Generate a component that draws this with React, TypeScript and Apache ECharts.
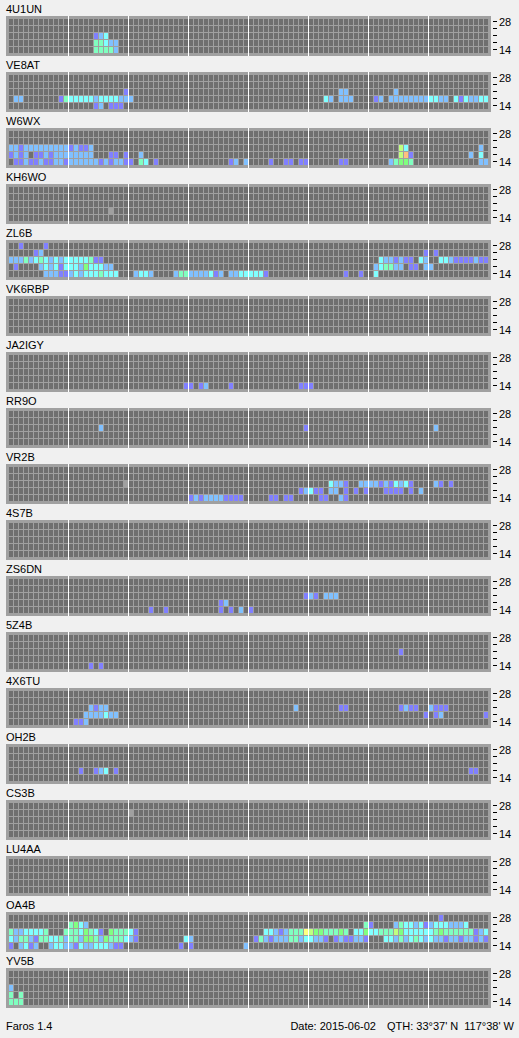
import React, { useEffect, useRef } from "react";
import * as echarts from "echarts";

// Bands (MHz), bottom to top
const BANDS = ["14", "18", "21", "24", "28"];
const LABELED_BANDS = ["14", "28"];
// 96 time slots per day (8 blocks of 12)
const SLOTS: string[] = Array.from({ length: 96 }, (_, i) => String(i));
const BLOCK = 12;

// level colours: 0 none, 1..8 signal strength, 9 = heard/undecoded
const LEVEL_COLORS = [
  "#6f6f6f",
  "#8080ff",
  "#80c0ff",
  "#80ffff",
  "#80ffc0",
  "#80ff80",
  "#c0ff80",
  "#ffff80",
  "#ffc080",
  "#a0a0a0",
];

// cells: [slot, bandIndex(0=14 .. 4=28), level]
const s4U1UN = [
  [17, 2, 1], [18, 2, 2], [19, 2, 3],
  [17, 1, 4], [18, 1, 4], [19, 1, 3], [20, 1, 2], [21, 1, 2],
  [17, 0, 4], [18, 0, 4], [19, 0, 4], [20, 0, 4], [21, 0, 2],
];
const sVE8AT = [
  [23, 2, 1], [66, 2, 2], [67, 2, 2], [77, 2, 2],
  [1, 1, 2], [2, 1, 2], [10, 1, 1], [11, 1, 4], [12, 1, 3], [13, 1, 3], [14, 1, 3], [15, 1, 3], [16, 1, 3],
  [17, 1, 2], [18, 1, 3], [19, 1, 3], [20, 1, 3], [21, 1, 3], [22, 1, 2], [23, 1, 2], [24, 1, 2],
  [63, 1, 3], [64, 1, 2], [66, 1, 2], [67, 1, 2], [68, 1, 2], [73, 1, 1], [74, 1, 2],
  [76, 1, 2], [77, 1, 2], [78, 1, 2], [79, 1, 2], [80, 1, 2], [81, 1, 2], [82, 1, 2], [83, 1, 2],
  [84, 1, 3], [85, 1, 3], [86, 1, 2], [87, 1, 2], [89, 1, 3], [90, 1, 1], [91, 1, 3], [92, 1, 2],
  [93, 1, 2], [94, 1, 3], [95, 1, 3],
  [17, 0, 1], [18, 0, 2], [20, 0, 1], [21, 0, 1], [22, 0, 1],
];
const sW6WX = [
  [0, 2, 2], [1, 2, 2], [2, 2, 1], [3, 2, 2], [4, 2, 2], [5, 2, 2], [6, 2, 2], [7, 2, 2], [8, 2, 2],
  [9, 2, 2], [10, 2, 2], [11, 2, 2], [12, 2, 1], [13, 2, 2], [14, 2, 1], [15, 2, 1], [16, 2, 2],
  [78, 2, 6], [79, 2, 3], [94, 2, 2],
  [0, 1, 1], [1, 1, 2], [2, 1, 1], [3, 1, 2], [5, 1, 1], [6, 1, 1], [7, 1, 2], [8, 1, 1], [9, 1, 2],
  [10, 1, 2], [11, 1, 2], [12, 1, 2], [13, 1, 2], [14, 1, 2], [15, 1, 2], [16, 1, 2], [20, 1, 1],
  [21, 1, 1], [23, 1, 1], [26, 1, 2], [78, 1, 6], [79, 1, 8], [80, 1, 1], [92, 1, 2], [94, 1, 3],
  [1, 0, 1], [2, 0, 1], [3, 0, 2], [4, 0, 1], [5, 0, 1], [6, 0, 2], [7, 0, 1], [8, 0, 1], [9, 0, 2],
  [10, 0, 2], [11, 0, 1], [12, 0, 2], [13, 0, 2], [14, 0, 2], [15, 0, 2], [16, 0, 2], [17, 0, 2],
  [18, 0, 1], [19, 0, 2], [20, 0, 1], [21, 0, 2], [22, 0, 2], [23, 0, 1], [24, 0, 1], [26, 0, 4],
  [27, 0, 3], [29, 0, 1], [44, 0, 1], [45, 0, 2], [47, 0, 2], [52, 0, 1], [55, 0, 1], [56, 0, 1],
  [58, 0, 1], [59, 0, 1], [66, 0, 1], [67, 0, 1], [76, 0, 2], [77, 0, 4], [78, 0, 5], [79, 0, 5],
  [80, 0, 4], [94, 0, 2], [95, 0, 2],
];
const sKH6WO = [[20, 1, 9]];
const sZL6B = [
  [2, 4, 1], [7, 4, 1],
  [5, 3, 1], [6, 3, 2], [83, 3, 1], [85, 3, 1],
  [0, 2, 2], [1, 2, 2], [2, 2, 2], [3, 2, 4], [4, 2, 2], [5, 2, 3], [6, 2, 4], [7, 2, 3], [8, 2, 2],
  [9, 2, 3], [10, 2, 2], [11, 2, 3], [12, 2, 3], [13, 2, 3], [14, 2, 3], [15, 2, 3], [16, 2, 4],
  [17, 2, 1], [18, 2, 1], [74, 2, 3], [75, 2, 2], [76, 2, 2], [77, 2, 1], [78, 2, 2], [79, 2, 1],
  [80, 2, 1], [82, 2, 3], [83, 2, 2], [86, 2, 3], [87, 2, 3], [88, 2, 2], [89, 2, 1], [90, 2, 1],
  [91, 2, 1], [92, 2, 1], [93, 2, 2], [94, 2, 1], [95, 2, 1],
  [1, 1, 1], [6, 1, 2], [7, 1, 3], [8, 1, 2], [9, 1, 3], [10, 1, 1], [11, 1, 3], [12, 1, 3],
  [13, 1, 3], [14, 1, 2], [15, 1, 5], [16, 1, 3], [17, 1, 3], [18, 1, 3], [19, 1, 2], [20, 1, 2],
  [73, 1, 2], [74, 1, 3], [75, 1, 4], [76, 1, 4], [77, 1, 2], [78, 1, 2], [80, 1, 1], [81, 1, 1],
  [83, 1, 2], [84, 1, 2],
  [7, 0, 2], [8, 0, 2], [9, 0, 2], [10, 0, 1], [11, 0, 1], [12, 0, 2], [13, 0, 3], [14, 0, 2],
  [15, 0, 3], [16, 0, 3], [17, 0, 3], [18, 0, 4], [19, 0, 3], [20, 0, 3], [21, 0, 3], [25, 0, 2],
  [26, 0, 3], [27, 0, 3], [28, 0, 2], [33, 0, 2], [34, 0, 4], [35, 0, 4], [36, 0, 2], [37, 0, 2],
  [38, 0, 2], [39, 0, 2], [40, 0, 3], [41, 0, 1], [42, 0, 2], [44, 0, 2], [45, 0, 2], [46, 0, 3],
  [47, 0, 3], [48, 0, 3], [49, 0, 3], [50, 0, 3], [51, 0, 1], [67, 0, 1], [70, 0, 1], [73, 0, 3],
];
const sVK6RBP: number[][] = [];
const sJA2IGY = [
  [35, 0, 1], [36, 0, 1], [38, 0, 1], [39, 0, 2], [44, 0, 1], [58, 0, 1], [59, 0, 1], [60, 0, 1],
];
const sRR9O = [[18, 2, 2], [59, 2, 1], [85, 2, 2]];
const sVR2B = [
  [23, 2, 9], [64, 2, 3], [65, 2, 2], [66, 2, 2], [67, 2, 1], [70, 2, 2], [71, 2, 2], [72, 2, 2],
  [73, 2, 2], [74, 2, 1], [75, 2, 2], [76, 2, 1], [77, 2, 3], [78, 2, 2], [79, 2, 3], [80, 2, 1],
  [85, 2, 2], [86, 2, 1], [88, 2, 1],
  [58, 1, 1], [59, 1, 2], [60, 1, 3], [61, 1, 1], [62, 1, 1], [64, 1, 2], [65, 1, 2], [67, 1, 1],
  [69, 1, 1], [71, 1, 1], [75, 1, 1], [76, 1, 1], [77, 1, 1], [78, 1, 1], [80, 1, 1], [82, 1, 2],
  [36, 0, 1], [37, 0, 2], [38, 0, 1], [39, 0, 2], [40, 0, 2], [41, 0, 2], [42, 0, 2], [43, 0, 1],
  [44, 0, 1], [45, 0, 1], [46, 0, 1], [52, 0, 1], [53, 0, 1], [55, 0, 1], [56, 0, 1], [62, 0, 1],
  [63, 0, 1], [66, 0, 2], [67, 0, 1],
];
const s4S7B: number[][] = [];
const sZS6DN = [
  [59, 2, 1], [60, 2, 2], [61, 2, 1], [63, 2, 2], [64, 2, 2], [65, 2, 2],
  [42, 1, 1], [43, 1, 2],
  [28, 0, 1], [31, 0, 1], [42, 0, 1], [44, 0, 1], [46, 0, 2], [48, 0, 1],
];
const s5Z4B = [[78, 2, 1], [16, 0, 1], [18, 0, 1]];
const s4X6TU = [
  [16, 2, 2], [17, 2, 1], [18, 2, 2], [19, 2, 2], [57, 2, 2], [66, 2, 1], [67, 2, 1], [78, 2, 1],
  [79, 2, 2], [80, 2, 1], [81, 2, 1], [84, 2, 2], [85, 2, 1], [86, 2, 1], [87, 2, 1],
  [15, 1, 2], [16, 1, 2], [17, 1, 2], [18, 1, 2], [19, 1, 3], [20, 1, 2], [21, 1, 2], [83, 1, 1],
  [85, 1, 1], [86, 1, 2], [95, 1, 1],
  [13, 0, 1], [14, 0, 1], [15, 0, 2],
];
const sOH2B = [[14, 1, 1], [17, 1, 1], [18, 1, 2], [19, 1, 3], [21, 1, 1], [92, 1, 1], [93, 1, 1]];
const sCS3B = [[24, 3, 9]];
const sLU4AA: number[][] = [];
const sOA4B = [
  [86, 4, 1],
  [12, 3, 4], [13, 3, 5], [14, 3, 3], [15, 3, 2], [71, 3, 4], [72, 3, 1], [77, 3, 2], [78, 3, 4],
  [79, 3, 3], [80, 3, 3], [81, 3, 2], [82, 3, 3], [83, 3, 1], [84, 3, 2], [85, 3, 3], [86, 3, 3],
  [87, 3, 3], [88, 3, 2], [89, 3, 2], [90, 3, 2], [91, 3, 3],
  [0, 2, 4], [1, 2, 2], [2, 2, 2], [3, 2, 3], [4, 2, 3], [5, 2, 3], [6, 2, 3], [7, 2, 4], [11, 2, 4],
  [12, 2, 4], [13, 2, 4], [14, 2, 3], [15, 2, 5], [16, 2, 4], [17, 2, 3], [18, 2, 1], [20, 2, 5],
  [21, 2, 4], [22, 2, 4], [23, 2, 4], [24, 2, 3], [25, 2, 1], [51, 2, 3], [52, 2, 3], [53, 2, 2],
  [54, 2, 1], [55, 2, 2], [56, 2, 4], [57, 2, 4], [58, 2, 4], [59, 2, 7], [60, 2, 6], [61, 2, 5],
  [62, 2, 5], [63, 2, 4], [64, 2, 4], [65, 2, 4], [66, 2, 5], [67, 2, 4], [69, 2, 3], [70, 2, 3],
  [71, 2, 5], [72, 2, 3], [73, 2, 3], [74, 2, 4], [75, 2, 4], [76, 2, 4], [77, 2, 6], [78, 2, 5],
  [79, 2, 3], [80, 2, 3], [81, 2, 3], [82, 2, 3], [83, 2, 3], [84, 2, 3], [85, 2, 4], [86, 2, 5],
  [87, 2, 4], [88, 2, 4], [89, 2, 4], [90, 2, 4], [91, 2, 4], [92, 2, 4], [93, 2, 1], [94, 2, 2],
  [95, 2, 3],
  [0, 1, 3], [1, 1, 2], [2, 1, 4], [3, 1, 4], [4, 1, 2], [5, 1, 1], [6, 1, 4], [7, 1, 4], [8, 1, 3],
  [9, 1, 3], [10, 1, 4], [11, 1, 2], [12, 1, 4], [13, 1, 4], [14, 1, 2], [15, 1, 5], [16, 1, 5],
  [17, 1, 4], [18, 1, 2], [19, 1, 5], [20, 1, 4], [21, 1, 4], [22, 1, 4], [23, 1, 3], [24, 1, 2],
  [25, 1, 1], [35, 1, 3], [36, 1, 2], [49, 1, 1], [50, 1, 4], [51, 1, 2], [52, 1, 1], [53, 1, 2],
  [54, 1, 2], [55, 1, 2], [56, 1, 4], [57, 1, 4], [58, 1, 2], [59, 1, 3], [60, 1, 3], [61, 1, 2],
  [62, 1, 2], [63, 1, 1], [65, 1, 1], [66, 1, 2], [67, 1, 1], [68, 1, 1], [69, 1, 2], [70, 1, 2],
  [71, 1, 1], [75, 1, 3], [76, 1, 3], [77, 1, 2], [78, 1, 4], [79, 1, 2], [80, 1, 3], [81, 1, 4],
  [82, 1, 3], [83, 1, 2], [84, 1, 3], [85, 1, 2], [86, 1, 2], [87, 1, 1], [88, 1, 2], [89, 1, 2],
  [90, 1, 1], [91, 1, 2], [92, 1, 2], [93, 1, 1], [94, 1, 2], [95, 1, 1],
  [0, 0, 1], [2, 0, 2], [3, 0, 3], [4, 0, 1], [5, 0, 2], [8, 0, 2], [9, 0, 3], [10, 0, 3], [11, 0, 2],
  [12, 0, 2], [13, 0, 1], [14, 0, 3], [15, 0, 2], [16, 0, 2], [17, 0, 3], [18, 0, 3], [19, 0, 3],
  [20, 0, 2], [21, 0, 1], [22, 0, 1], [34, 0, 1], [36, 0, 1], [47, 0, 2],
];
const sYV5B = [[0, 2, 2], [0, 1, 4], [2, 1, 4], [0, 0, 4], [1, 0, 4], [2, 0, 4]];

const STATIONS: { name: string; cells: number[][] }[] = [
  { name: "4U1UN", cells: s4U1UN },
  { name: "VE8AT", cells: sVE8AT },
  { name: "W6WX", cells: sW6WX },
  { name: "KH6WO", cells: sKH6WO },
  { name: "ZL6B", cells: sZL6B },
  { name: "VK6RBP", cells: sVK6RBP },
  { name: "JA2IGY", cells: sJA2IGY },
  { name: "RR9O", cells: sRR9O },
  { name: "VR2B", cells: sVR2B },
  { name: "4S7B", cells: s4S7B },
  { name: "ZS6DN", cells: sZS6DN },
  { name: "5Z4B", cells: s5Z4B },
  { name: "4X6TU", cells: s4X6TU },
  { name: "OH2B", cells: sOH2B },
  { name: "CS3B", cells: sCS3B },
  { name: "LU4AA", cells: sLU4AA },
  { name: "OA4B", cells: sOA4B },
  { name: "YV5B", cells: sYV5B },
];

const FOOTER_LEFT = "Faros 1.4";
const FOOTER_DATE = "Date: 2015-06-02";
const FOOTER_QTH = "QTH: 33°37' N";
const FOOTER_LON = "117°38' W";

// layout
const W = 519;
const H = 1038;
const PITCH = 56;
const GRID_LEFT = 8;
const GRID_TOP0 = 18;
const GRID_W = 480;
const GRID_H = 35;
const FONT = "Liberation Sans, Arial, sans-serif";

function buildOption() {
  const grids: any[] = [];
  const xAxes: any[] = [];
  const yAxes: any[] = [];
  const series: any[] = [];
  const graphics: any[] = [];

  STATIONS.forEach((st, i) => {
    const top = GRID_TOP0 + PITCH * i;
    grids.push({ left: GRID_LEFT, top, width: GRID_W, height: GRID_H, containLabel: false });
    xAxes.push({
      type: "category",
      gridIndex: i,
      data: SLOTS,
      boundaryGap: true,
      show: false,
    });
    yAxes.push({
      type: "category",
      gridIndex: i,
      data: BANDS,
      position: "right",
      offset: 5,
      boundaryGap: true,
      axisLine: { show: false },
      axisTick: { show: true, alignWithLabel: true, length: 4, lineStyle: { color: "#000", width: 1 } },
      axisLabel: {
        show: true,
        interval: 0,
        margin: 6,
        color: "#000",
        fontSize: 11,
        fontFamily: FONT,
        formatter: (v: string) => (LABELED_BANDS.includes(v) ? v : ""),
      },
      splitLine: { show: false },
    });

    const lookup = new Map<string, number>();
    st.cells.forEach(([c, b, l]) => lookup.set(c + ":" + b, l));
    const data: number[][] = [];
    for (let c = 0; c < SLOTS.length; c++) {
      for (let b = 0; b < BANDS.length; b++) {
        data.push([c, b, lookup.get(c + ":" + b) ?? 0]);
      }
    }
    series.push({
      type: "custom",
      xAxisIndex: i,
      yAxisIndex: i,
      silent: true,
      z: 5,
      data,
      encode: { x: 0, y: 1 },
      renderItem: (_p: any, api: any) => {
        const pt = api.coord([api.value(0), api.value(1)]);
        const sz = api.size([1, 1]);
        return {
          type: "rect",
          shape: {
            x: pt[0] - sz[0] / 2 + 1,
            y: pt[1] - sz[1] / 2 + 1,
            width: sz[0] - 1,
            height: sz[1] - 1,
          },
          style: { fill: LEVEL_COLORS[api.value(2)] },
        };
      },
    });

    // station name
    graphics.push({
      type: "text",
      left: 6,
      top: top - 15,
      z: 10,
      style: { text: st.name, fill: "#000", font: `11px ${FONT}` },
    });
    // frame
    graphics.push({
      type: "rect",
      x: GRID_LEFT - 2,
      y: top - 2,
      shape: { x: 0, y: 0, width: GRID_W + 5, height: GRID_H + 5 },
      style: { fill: "#a0a0a0" },
      z: 1,
    });
    // block separators
    for (let k = 1; k < SLOTS.length / BLOCK; k++) {
      graphics.push({
        type: "rect",
        x: GRID_LEFT + (GRID_W / (SLOTS.length / BLOCK)) * k,
        y: top - 2,
        shape: { x: 0, y: 0, width: 1, height: GRID_H + 5 },
        style: { fill: "#ffffff" },
        z: 20,
      });
    }
  });

  graphics.push({
    type: "text",
    left: 6,
    top: 1020,
    style: { text: FOOTER_LEFT, fill: "#000", font: `11px ${FONT}` },
  });
  graphics.push({
    type: "text",
    x: 376,
    y: 1026,
    style: { text: FOOTER_DATE, fill: "#000", font: `11px ${FONT}`, textAlign: "right", textVerticalAlign: "middle" },
  });
  graphics.push({
    type: "text",
    x: 387,
    y: 1026,
    style: { text: FOOTER_QTH, fill: "#000", font: `11px ${FONT}`, textAlign: "left", textVerticalAlign: "middle" },
  });
  graphics.push({
    type: "text",
    x: 514,
    y: 1026,
    style: { text: FOOTER_LON, fill: "#000", font: `11px ${FONT}`, textAlign: "right", textVerticalAlign: "middle" },
  });

  return {
    animation: false,
    backgroundColor: "#f0f0f0",
    grid: grids,
    xAxis: xAxes,
    yAxis: yAxes,
    series,
    graphic: graphics,
  };
}

export default function App() {
  const ref = useRef<HTMLDivElement>(null);
  useEffect(() => {
    if (!ref.current) return;
    const chart = echarts.init(ref.current, undefined, { renderer: "svg" });
    chart.setOption(buildOption() as any);
    return () => chart.dispose();
  }, []);
  return (
    <div
      ref={ref}
      style={{ position: "absolute", left: 0, top: 0, width: W, height: H, background: "#f0f0f0" }}
    />
  );
}
